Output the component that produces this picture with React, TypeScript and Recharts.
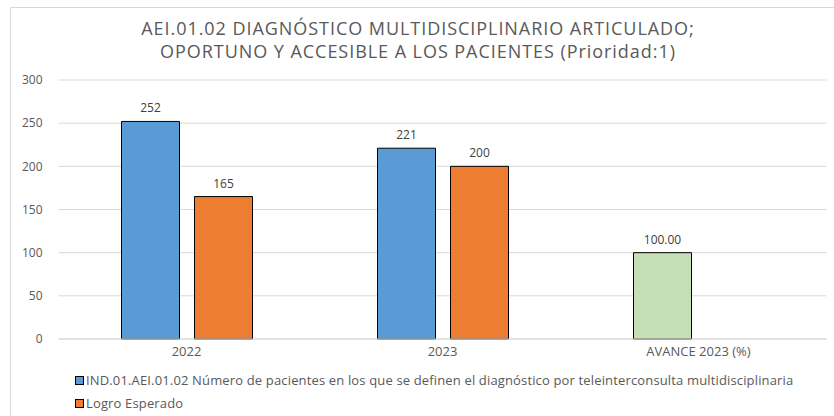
import { BarChart, Bar, XAxis, YAxis, CartesianGrid, Cell, LabelList } from 'recharts';

const categories = ['2022', '2023', 'AVANCE 2023 (%)'];
const pacientes = [252, 221, 100];
const logroEsperado: (number | null)[] = [165, 200, null];
const yTicks = [0, 50, 100, 150, 200, 250, 300];

const BLUE = '#5b9bd5';
const ORANGE = '#ed7d31';
const GREEN = '#c5e0b4';
const TEXT = '#595959';
const FONT = '"Open Sans", sans-serif';

const data = categories.map((name, i) => ({
  name,
  pacientes: pacientes[i],
  logro: logroEsperado[i],
}));

const renderLabel = (props: any) => {
  const { x, y, width, value, index } = props;
  if (value === null || value === undefined) return null;
  const txt = index === 2 ? Number(value).toFixed(2) : String(value);
  return (
    <text x={x + width / 2} y={y - 9} textAnchor="middle" fill="#404040" fontSize={12} fontFamily={FONT}>
      {txt}
    </text>
  );
};

export default function App() {
  return (
    <div style={{ position: 'absolute', left: 0, top: 0, width: 834, height: 416, overflow: 'hidden', background: '#fff', fontFamily: FONT }}>
      <div style={{ position: 'absolute', left: 10, top: 7, width: 840, height: 430, border: '1px solid #d9d9d9' }} />
      <div style={{ position: 'absolute', left: 0, top: 17, width: 836, textAlign: 'center', color: TEXT, fontSize: 18, letterSpacing: 0.95, lineHeight: '23px' }}>
        AEI.01.02 DIAGNÓSTICO MULTIDISCIPLINARIO ARTICULADO;<br />
        OPORTUNO Y ACCESIBLE A LOS PACIENTES (Prioridad:1)
      </div>
      <div style={{ position: 'absolute', left: 0, top: 0 }}>
        <BarChart width={834} height={416} data={data} margin={{ top: 80, right: 7.5, bottom: 57, left: 8.5 }} barGap={15} barSize={58}>
          <CartesianGrid vertical={false} stroke="#d9d9d9" />
          <XAxis dataKey="name" stroke="#d9d9d9" tickLine={false} height={20} tick={{ fill: TEXT, fontSize: 13, fontFamily: FONT }} />
          <YAxis width={50} domain={[0, 300]} ticks={yTicks} axisLine={false} tickLine={false} tickMargin={10} tick={{ fill: TEXT, fontSize: 12, fontFamily: FONT }} />
          <Bar dataKey="pacientes" fill={BLUE} stroke="#000" strokeWidth={1} isAnimationActive={false}>
            {data.map((d, i) => (
              <Cell key={d.name} fill={i === 2 ? GREEN : BLUE} />
            ))}
            <LabelList dataKey="pacientes" content={renderLabel} />
          </Bar>
          <Bar dataKey="logro" fill={ORANGE} stroke="#000" strokeWidth={1} isAnimationActive={false}>
            <LabelList dataKey="logro" content={renderLabel} />
          </Bar>
        </BarChart>
      </div>
      <div style={{ position: 'absolute', left: 75, top: 369, color: TEXT, fontSize: 13, letterSpacing: 0.15, lineHeight: '23px' }}>
        <div style={{ display: 'flex', alignItems: 'center' }}>
          <span style={{ width: 7, height: 7, background: BLUE, border: '1px solid #000', marginRight: 2 }} />
          IND.01.AEI.01.02 Número de pacientes en los que se definen el diagnóstico por teleinterconsulta multidisciplinaria
        </div>
        <div style={{ display: 'flex', alignItems: 'center' }}>
          <span style={{ width: 7, height: 7, background: ORANGE, border: '1px solid #000', marginRight: 2 }} />
          Logro Esperado
        </div>
      </div>
    </div>
  );
}
